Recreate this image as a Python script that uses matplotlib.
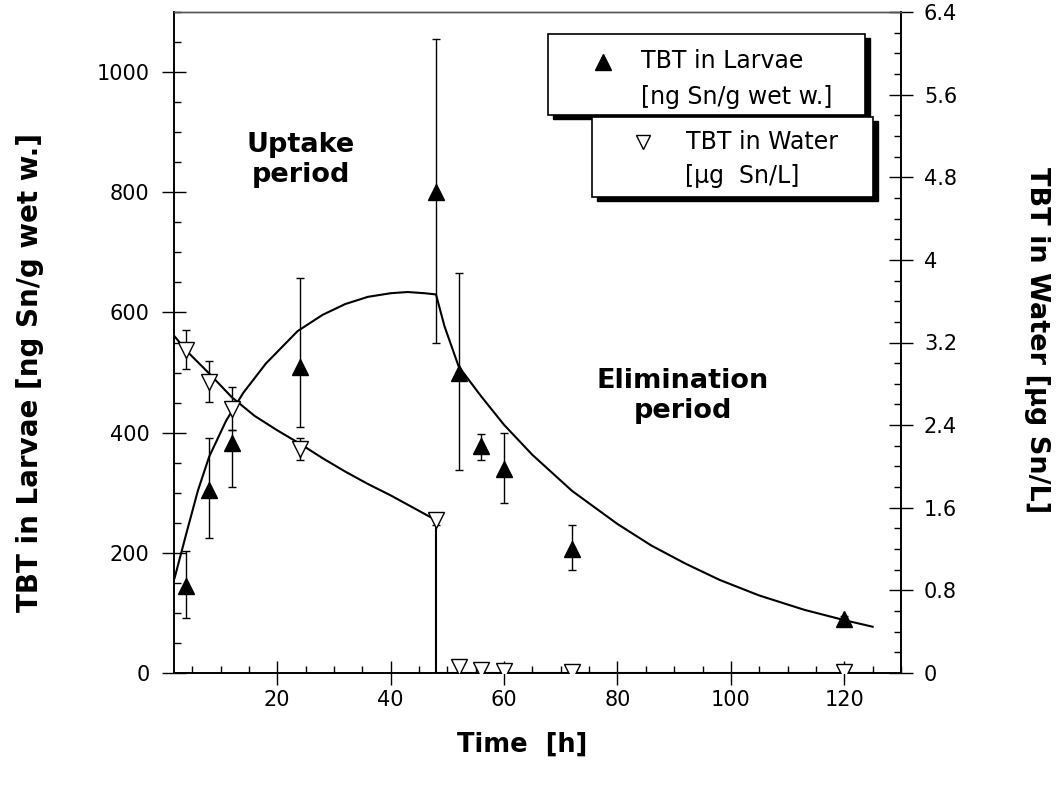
import matplotlib
matplotlib.use("Agg")
import matplotlib.pyplot as plt
from matplotlib.ticker import MultipleLocator, FuncFormatter
from matplotlib.patches import Rectangle
from matplotlib.lines import Line2D

plt.rcParams['font.family'] = ['DejaVu Sans']

# ---- data ----
larvae_t = [4, 8, 12, 24, 48, 52, 56, 60, 72, 120]
larvae_v = [144, 305, 383, 510, 800, 499, 377, 340, 206, 90]
larvae_lo = [52, 80, 74, 101, 250, 161, 22, 57, 34, 5]
larvae_hi = [59, 86, 21, 148, 255, 167, 20, 60, 41, 5]

water_t = [4, 8, 12, 24, 48, 52, 56, 60, 72, 120]
water_v = [3.13, 2.82, 2.56, 2.17, 1.48, 0.06, 0.03, 0.02, 0.01, 0.01]
water_err = [0.19, 0.20, 0.21, 0.11, 0.05, 0.0, 0.0, 0.0, 0.0, 0.0]

# fitted model curves
larvae_fit_t = [1.9, 4, 6, 8, 11, 14, 18, 23.6, 28, 32, 36, 40, 43, 46, 48,
                49.5, 52, 56, 60, 65, 72, 80, 86, 92, 98, 105, 113, 120, 125]
larvae_fit_v = [158, 233, 303, 360, 420, 466, 515, 569, 596, 614, 626, 632, 634, 632, 630,
                577, 510, 460, 413, 363, 303, 248, 212, 182, 155, 129, 105, 88, 77]

water_fit_t = [1.9, 4, 8, 12, 16, 20, 24, 28, 32, 36, 40, 44, 48, 48, 125]
water_fit_v = [3.26, 3.12, 2.90, 2.67, 2.49, 2.35, 2.22, 2.08, 1.95, 1.83, 1.72, 1.60, 1.48, 0.0, 0.0]

x_major = [20, 40, 60, 80, 100, 120]
left_major = [0, 200, 400, 600, 800, 1000]
right_major = [0, 0.8, 1.6, 2.4, 3.2, 4.0, 4.8, 5.6, 6.4]

W, H = 1056, 791
fig = plt.figure(figsize=(W / 100, H / 100), dpi=100)

L, R, T, B = 174, 901, 12, 673
ax = fig.add_axes([L / W, 1 - B / H, (R - L) / W, (B - T) / H])
ax2 = ax.twinx()

ax.set_xlim(1.8, 130)
ax.set_ylim(0, 1100)
ax2.set_ylim(0, 6.4)

# curves
ax.plot(larvae_fit_t, larvae_fit_v, color='black', lw=1.5, zorder=3)
ax2.plot(water_fit_t, water_fit_v, color='black', lw=1.5, zorder=3)

# larvae data
ax.errorbar(larvae_t, larvae_v, yerr=[larvae_lo, larvae_hi], fmt='^', color='black',
            ms=12, mfc='black', mec='black', ecolor='black', elinewidth=1.0,
            capsize=3, capthick=1.0, zorder=4)
# water data
ax2.errorbar(water_t, water_v, yerr=water_err, fmt='v', color='black',
             ms=11, mfc='white', mec='black', mew=1.0, ecolor='black', elinewidth=1.0,
             capsize=3, capthick=1.0, zorder=5)

# ticks
ax.xaxis.set_major_locator(plt.FixedLocator(x_major))
ax.xaxis.set_minor_locator(MultipleLocator(5))
ax.yaxis.set_major_locator(plt.FixedLocator(left_major))
ax.yaxis.set_minor_locator(MultipleLocator(50))
ax2.yaxis.set_major_locator(plt.FixedLocator(right_major))
ax2.yaxis.set_minor_locator(MultipleLocator(0.2))
ax2.yaxis.set_major_formatter(FuncFormatter(lambda v, p: '%g' % round(v, 1)))

ax.tick_params(axis='x', which='major', direction='inout', length=17, width=1.0,
               labelsize=15, pad=4, top=False)
ax.tick_params(axis='x', which='minor', direction='in', length=5, width=1.0, top=False)
ax.tick_params(axis='y', which='major', direction='inout', length=17, width=1.0,
               labelsize=15, pad=9, right=False)
ax.tick_params(axis='y', which='minor', direction='in', length=5, width=1.0, right=False)
ax2.tick_params(axis='y', which='major', direction='inout', length=17, width=1.0,
                labelsize=15, pad=8)
ax2.tick_params(axis='y', which='minor', direction='in', length=5, width=1.0)

for a in (ax, ax2):
    for s in ('left', 'right', 'bottom'):
        a.spines[s].set_linewidth(1.2)
    a.spines['top'].set_linewidth(1.0)
    a.spines['top'].set_color('#555555')

# axis labels
fig.text(522 / W, 1 - 745 / H, 'Time  [h]', ha='center', va='center',
         fontsize=18.5, fontweight='bold')
fig.text(30 / W, 1 - 372 / H, 'TBT in Larvae [ng Sn/g wet w.]', ha='center', va='center',
         rotation=90, fontsize=20, fontweight='bold')
fig.text(1037 / W, 1 - 340 / H, 'TBT in Water [µg Sn/L]', ha='center', va='center',
         rotation=270, fontsize=19.5, fontweight='bold')

# period annotations
fig.text(301 / W, 1 - 160 / H, 'Uptake\nperiod', ha='center', va='center',
         fontsize=19.5, fontweight='bold', linespacing=1.15)
fig.text(683 / W, 1 - 396 / H, 'Elimination\nperiod', ha='center', va='center',
         fontsize=19.5, fontweight='bold', linespacing=1.15)


# legend boxes with drop shadows
def box(x0, y0, x1, y1, z):
    sh = Rectangle(((x0 + 5) / W, 1 - (y1 + 4) / H), (x1 - x0) / W, (y1 - y0) / H,
                   transform=fig.transFigure, facecolor='black', edgecolor='black',
                   zorder=z)
    bx = Rectangle((x0 / W, 1 - y1 / H), (x1 - x0) / W, (y1 - y0) / H,
                   transform=fig.transFigure, facecolor='white', edgecolor='black',
                   lw=1.2, zorder=z + 0.1)
    fig.patches.extend([sh, bx])


box(548, 34, 865, 115, 10)
box(592, 117, 873, 197, 12)

fig.lines.append(Line2D([603 / W], [1 - 62 / H], marker='^', ms=12, color='black',
                        mfc='black', transform=fig.transFigure, zorder=20))
fig.lines.append(Line2D([643 / W], [1 - 142 / H], marker='v', ms=10, color='black',
                        mfc='white', mew=1.0, transform=fig.transFigure, zorder=20))
fig.text(641 / W, 1 - 61 / H, 'TBT in Larvae', ha='left', va='center', fontsize=17, zorder=21)
fig.text(641 / W, 1 - 97 / H, '[ng Sn/g wet w.]', ha='left', va='center', fontsize=17, zorder=21)
fig.text(686 / W, 1 - 142 / H, 'TBT in Water', ha='left', va='center', fontsize=17, zorder=21)
fig.text(685 / W, 1 - 176 / H, '[µg  Sn/L]', ha='left', va='center', fontsize=17, zorder=21)

fig.savefig('out.png', dpi=100)
